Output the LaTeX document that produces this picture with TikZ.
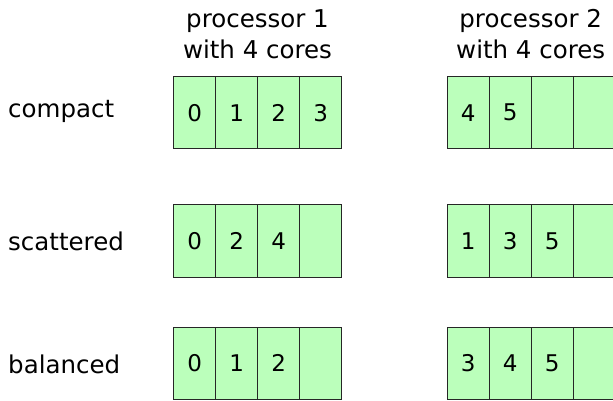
\documentclass[tikz,border=0pt]{standalone}
\usepackage{fontspec}
\setmainfont{DejaVu Sans}
\definecolor{coregreen}{RGB}{187,255,187}
\begin{document}
\begin{tikzpicture}[x=1pt,y=-1pt,
  core/.style={draw=black!85, line width=1pt, fill=coregreen,
    minimum width=42pt, minimum height=72.4pt, inner sep=0pt,
    anchor=north west, font=\fontsize{23}{27}\selectfont},
  rowlabel/.style={anchor=base west, inner sep=0pt,
    font=\fontsize{24.5}{31}\selectfont},
  header/.style={align=center, inner sep=0pt, anchor=base,
    font=\fontsize{24.5}{31}\selectfont}]
\useasboundingbox (0,0) rectangle (613,401);

% processor headers (anchored on the baseline of the second line)
\node[header] (h1) at (257.5,59) {processor 1\\with 4 cores};
\node[header] (h2) at (530.7,59) {processor 2\\with 4 cores};

% placement strategies
\node[rowlabel] (compact) at (8,117.5) {compact};
\node[rowlabel] (scattered) at (8,250) {scattered};
\node[rowlabel] (balanced) at (8,373) {balanced};

% cores: row / top edge / thread ids on processor 1 / thread ids on processor 2
\foreach \r/\top/\pa/\pb in {1/76/{0,1,2,3}/{4,5,,},
                             2/204.3/{0,2,4,}/{1,3,5,},
                             3/326.7/{0,1,2,}/{3,4,5,}} {
  \foreach \t [count=\i from 0] in \pa {
    \node[core] (c\r-1-\i) at (173.3+42*\i,\top) {\t};
  }
  \foreach \t [count=\i from 0] in \pb {
    \node[core] (c\r-2-\i) at (446.7+42*\i,\top) {\t};
  }
}
\end{tikzpicture}
\end{document}
